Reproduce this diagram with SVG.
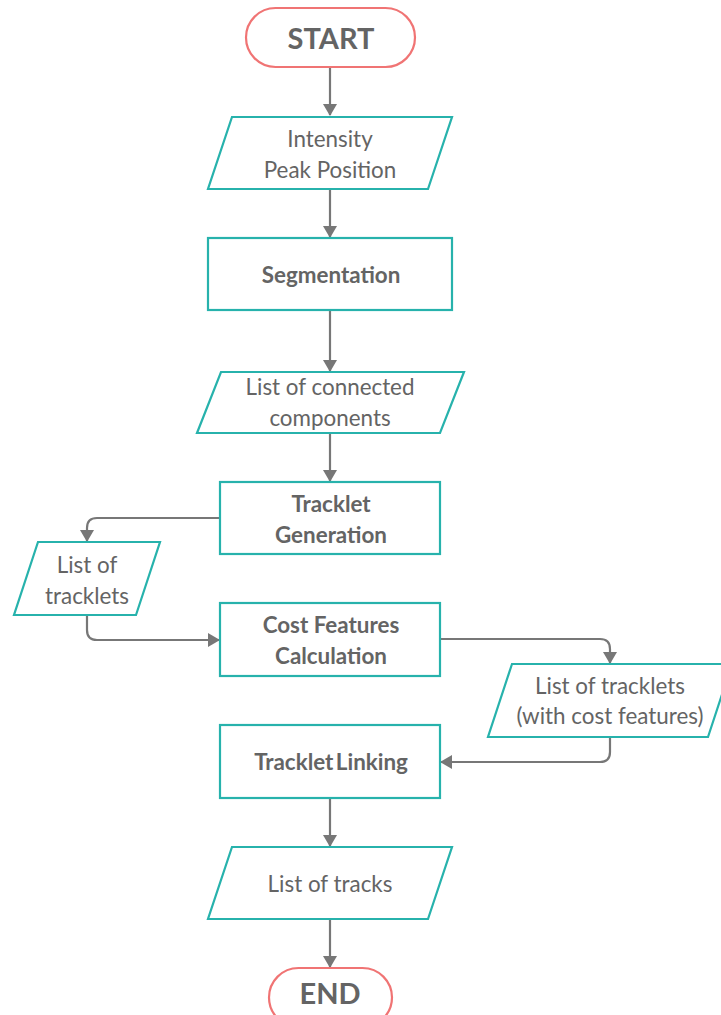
<svg xmlns="http://www.w3.org/2000/svg" width="721" height="1015" viewBox="0 0 721 1015">
  <style>
    .term { fill: #ffffff; stroke: #f07474; stroke-width: 2.2; }
    .box { fill: #ffffff; stroke: #27b2ac; stroke-width: 2.2; }
    .lbl { font-family: Lato, "Liberation Sans", sans-serif; font-size: 22.4px; fill: #646464; text-anchor: middle; }
    .b { font-weight: bold; }
    .big { font-size: 29px; font-weight: bold; }
    .conn { fill: none; stroke: #777777; stroke-width: 2.2; marker-end: url(#arrow); }
  </style>
  <defs>
    <marker id="arrow" markerUnits="userSpaceOnUse" markerWidth="12" markerHeight="14" viewBox="0 0 12 14" refX="11" refY="7" orient="auto">
      <path d="M0,0 L12,7 L0,14 z" fill="#777777"/>
    </marker>
  </defs>

  <rect width="721" height="1015" fill="#ffffff"/>

  <g id="connectors">
    <path class="conn" d="M330,67 V115"/>
    <path class="conn" d="M330,189 V237"/>
    <path class="conn" d="M330,311 V371"/>
    <path class="conn" d="M330,433 V481"/>
    <path class="conn" d="M220,518 H97 Q87,518 87,528 V541"/>
    <path class="conn" d="M87,615 V630 Q87,640 97,640 H219"/>
    <path class="conn" d="M440,639 H600 Q610,639 610,649 V663"/>
    <path class="conn" d="M610,737 V752 Q610,762 600,762 H441"/>
    <path class="conn" d="M330,798 V846"/>
    <path class="conn" d="M330,919 V967"/>
  </g>

  <g id="start">
    <rect class="term" x="246" y="8" width="169" height="59" rx="29.5"/>
    <text class="lbl big" x="331" y="49">START</text>
  </g>

  <g id="intensity">
    <polygon class="box" points="232,117 452,117 428,189 208,189"/>
    <text class="lbl" x="330" y="147">Intensity</text>
    <text class="lbl" x="330" y="178">Peak Position</text>
  </g>

  <g id="segmentation">
    <rect class="box" x="208" y="238" width="244" height="72"/>
    <text class="lbl b" x="331" y="283">Segmentation</text>
  </g>

  <g id="components">
    <polygon class="box" points="221,372 464,372 440,433 197,433"/>
    <text class="lbl" x="330" y="395">List of connected</text>
    <text class="lbl" x="330" y="426">components</text>
  </g>

  <g id="tracklet-generation">
    <rect class="box" x="220" y="482" width="220" height="72"/>
    <text class="lbl b" x="331" y="512">Tracklet</text>
    <text class="lbl b" x="331" y="543">Generation</text>
  </g>

  <g id="tracklets">
    <polygon class="box" points="38,542 160,542 136,615 14,615"/>
    <text class="lbl" x="87" y="573">List of</text>
    <text class="lbl" x="87" y="604">tracklets</text>
  </g>

  <g id="cost-features">
    <rect class="box" x="220" y="603" width="220" height="73"/>
    <text class="lbl b" x="331" y="633">Cost Features</text>
    <text class="lbl b" x="331" y="664">Calculation</text>
  </g>

  <g id="tracklets-with-costs">
    <polygon class="box" points="512,664 732,664 708,737 488,737"/>
    <text class="lbl" x="610" y="694">List of tracklets</text>
    <text class="lbl" x="610" y="724">(with cost features)</text>
  </g>

  <g id="tracklet-linking">
    <rect class="box" x="220" y="725" width="220" height="73"/>
    <text class="lbl b" x="331" y="770" word-spacing="-3">Tracklet Linking</text>
  </g>

  <g id="tracks">
    <polygon class="box" points="232,847 452,847 428,919 208,919"/>
    <text class="lbl" x="330" y="892">List of tracks</text>
  </g>

  <g id="end">
    <rect class="term" x="269" y="968" width="123" height="59" rx="29.5"/>
    <text class="lbl big" x="330" y="1004">END</text>
  </g>
</svg>
